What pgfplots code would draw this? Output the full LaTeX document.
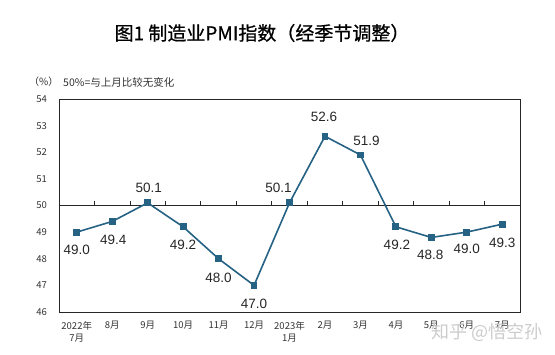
\documentclass[border=0pt]{standalone}
\usepackage{pgfplots}
\pgfplotsset{compat=1.18}
\usepackage{fontspec}
\setmainfont{Liberation Sans}
\newfontfamily\cjk{Noto Sans CJK SC}
\newfontfamily\cjktitle[FakeBold=0.7]{Noto Sans CJK SC}
\definecolor{pmiline}{RGB}{38,98,132}
\begin{document}
\begin{tikzpicture}[x=1pt,y=1pt]
\useasboundingbox (0,0) rectangle (555,355);
\fill[white] (0,0) rectangle (555,355);
\node[font=\cjktitle\fontsize{19}{22}\selectfont] at (262,322) {图1\ 制造业PMI指数（经季节调整）};
\node[anchor=west,font=\cjk\fontsize{10}{12}\selectfont,inner sep=0pt,text=black!80] at (29,273) {（\%）};
\node[anchor=west,font=\cjk\fontsize{10.5}{12}\selectfont,inner sep=0pt,text=black!80] at (63,273) {50\%=与上月比较无变化};
\begin{axis}[
  at={(59pt,43pt)}, anchor=south west,
  scale only axis, width=461pt, height=213pt,
  xmin=-0.5, xmax=12.5, ymin=46, ymax=54,
  ytick={46,47,...,54},
  xtick={0,1,...,12},
  xticklabels={{2022年\\7月},8月,9月,10月,11月,12月,{2023年\\1月},2月,3月,4月,5月,6月,7月},
  major tick length=0pt,
  axis line style={black!85, line width=0.9pt},
  /pgf/number format/assume math mode=true,
  ticklabel style={font=\cjk\fontsize{9.5}{12.5}\selectfont, text=black!80},
  xticklabel style={align=center, inner sep=0pt, anchor=north, yshift=-9pt},
  yticklabel style={anchor=east, inner sep=0pt, xshift=-12pt},
  clip=false,
  visualization depends on={\thisrow{dx} \as \dx},
  visualization depends on={\thisrow{dy} \as \dy},
  nodes near coords={\pgfmathprintnumber[fixed,fixed zerofill,precision=1]{\pgfplotspointmeta}},
  nodes near coords style={anchor=center, font=\fontsize{13.5}{15}\selectfont, text=black!85, xshift={\dx pt}, yshift={\dy pt}},
]
\draw[black!85, line width=0.9pt] (axis cs:-0.5,50) -- (axis cs:12.5,50);
\pgfplotsinvokeforeach{0,...,11}{\draw[black!85, line width=0.8pt] (axis cs:#1.5,50) -- (axis cs:#1.5,50.16);}
\addplot[pmiline, line width=1.6pt, mark=square*, mark size=2.6pt, mark options={fill=pmiline, draw=pmiline}] table {
x y dx dy
0 49.0 0 -18
1 49.4 1 -18
2 50.1 1 15
3 49.2 0 -18
4 48.0 0 -19
5 47.0 0 -18
6 50.1 -11 15
7 52.6 -1 19
8 51.9 6 14
9 49.2 1 -18
10 48.8 -1 -17
11 49.0 0 -17
12 49.3 0 -19
};
\end{axis}
\node[anchor=east,font=\cjk\fontsize{18}{20}\selectfont,text=black!20,inner sep=0pt] at (543,23) {知乎 @悟空孙};
\end{tikzpicture}
\end{document}
